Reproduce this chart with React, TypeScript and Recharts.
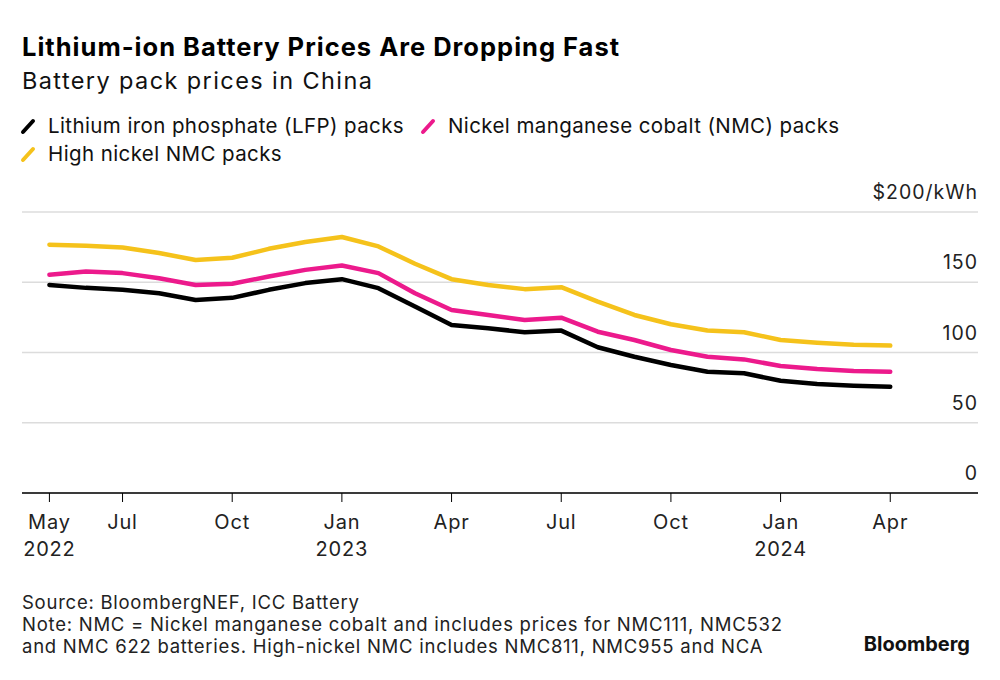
import { CartesianGrid, Line, LineChart, XAxis, YAxis } from "recharts";

const MONTH_LABELS = [
  "May", "Jun", "Jul", "Aug", "Sep", "Oct", "Nov", "Dec",
  "Jan", "Feb", "Mar", "Apr", "May", "Jun", "Jul", "Aug", "Sep", "Oct", "Nov", "Dec",
  "Jan", "Feb", "Mar", "Apr",
];
const YEAR_LABELS: Record<number, string> = { 0: "2022", 8: "2023", 20: "2024" };
const X_TICKS = [0, 2, 5, 8, 11, 14, 17, 20, 23];
const Y_TICKS = [0, 50, 100, 150, 200];

// $/kWh, monthly May 2022 – Apr 2024
const LFP = [148.1, 146, 144.6, 142.2, 137.4, 138.9, 144.6, 149.4, 152.2, 145.8, 132.7, 119.6, 117.3, 114.4, 115.6, 103.7, 97, 91.1, 86.3, 85.2, 79.9, 77.5, 76.3, 75.6];
const NMC = [155.3, 157.6, 156.5, 152.9, 148.1, 148.9, 154.1, 158.8, 161.9, 156.5, 142.2, 130.3, 126.7, 123.2, 124.8, 114.8, 108.9, 101.8, 97, 95.1, 90.4, 88.2, 86.8, 86.3];
const HIGH_NI = [176.7, 176, 174.7, 170.8, 165.8, 167.4, 173.8, 178.6, 182.2, 175.5, 163.2, 152.2, 148.1, 145.1, 146.5, 136.2, 126.7, 120.1, 115.6, 114.4, 108.9, 107, 105.6, 104.9];

const SERIES = [
  { key: "high", name: "High nickel NMC packs", color: "#F5C21B" },
  { key: "nmc", name: "Nickel manganese cobalt (NMC) packs", color: "#EC1A8C" },
  { key: "lfp", name: "Lithium iron phosphate (LFP) packs", color: "#000000" },
];

const FONT = "Inter, 'Liberation Sans', Arial, sans-serif";
const CHART_W = 1000;
const CHART_H = 560;
const Y_AXIS_W = 1;
const MARGIN = { top: 212, right: 21, left: 22, bottom: 0 };

const data = MONTH_LABELS.map((m, i) => ({ i, month: m, lfp: LFP[i], nmc: NMC[i], high: HIGH_NI[i] }));

function XTick({ x, y, payload }: { x?: number; y?: number; payload?: { value: number } }) {
  const idx = payload?.value ?? 0;
  const year = YEAR_LABELS[idx];
  const style = { letterSpacing: 0.8 };
  return (
    <g>
      <text x={x} y={(y ?? 0) + 27} textAnchor="middle" fontSize={20} fill="#222" fontFamily={FONT} style={style}>{MONTH_LABELS[idx]}</text>
      {year && <text x={x} y={(y ?? 0) + 54} textAnchor="middle" fontSize={20} fill="#222" fontFamily={FONT} style={style}>{year}</text>}
    </g>
  );
}

function YTick({ y, payload }: { y?: number; payload?: { value: number } }) {
  const v = payload?.value ?? 0;
  return (
    <text x={CHART_W - 22} y={(y ?? 0) - 13} textAnchor="end" fontSize={19.5} fill="#222" fontFamily={FONT} style={{ letterSpacing: 1 }}>
      {v === 200 ? "$200/kWh" : String(v)}
    </text>
  );
}

function Slash({ color }: { color: string }) {
  return (
    <svg width={16} height={18} style={{ marginRight: 12, flexShrink: 0 }}>
      <line x1={3} y1={15} x2={13} y2={4} stroke={color} strokeWidth={4} strokeLinecap="round" />
    </svg>
  );
}

function LegendItem({ color, name, left, top }: { color: string; name: string; left: number; top: number }) {
  return (
    <div style={{ position: "absolute", left, top, display: "flex", alignItems: "center", fontSize: 20.5, letterSpacing: 0.4, color: "#111", whiteSpace: "nowrap" }}>
      <Slash color={color} />
      <span>{name}</span>
    </div>
  );
}

export default function App() {
  return (
    <div style={{ position: "absolute", left: 0, top: 0, width: 1000, height: 680, background: "#fff", fontFamily: FONT, overflow: "hidden" }}>
      <div style={{ position: "absolute", left: 22, top: 31, fontSize: 25.5, fontWeight: 700, color: "#000", letterSpacing: 1.0, whiteSpace: "nowrap" }}>
        Lithium-ion Battery Prices Are Dropping Fast
      </div>
      <div style={{ position: "absolute", left: 22, top: 66, fontSize: 23.5, letterSpacing: 1.4, color: "#111", whiteSpace: "nowrap" }}>
        Battery pack prices in China
      </div>

      <LegendItem color={SERIES[2].color} name={SERIES[2].name} left={20} top={113} />
      <LegendItem color={SERIES[1].color} name={SERIES[1].name} left={420} top={113} />
      <LegendItem color={SERIES[0].color} name={SERIES[0].name} left={20} top={141} />

      <div style={{ position: "absolute", left: 0, top: 0 }}>
        <LineChart width={CHART_W} height={CHART_H} data={data} margin={MARGIN}>
          <CartesianGrid vertical={false} stroke="#dcdcdc" strokeWidth={1.5} />
          <XAxis
            type="number"
            dataKey="i"
            domain={[-0.75, 25.4]}
            ticks={X_TICKS}
            interval={0}
            height={67}
            allowDataOverflow
            axisLine={{ stroke: "#000", strokeWidth: 1.5 }}
            tickLine={{ stroke: "#000", strokeWidth: 1 }}
            tickSize={9}
            tickMargin={0}
            tick={(p: any) => <XTick {...p} />}
          />
          <YAxis
            orientation="right"
            width={Y_AXIS_W}
            domain={[0, 200]}
            ticks={Y_TICKS}
            interval={0}
            axisLine={false}
            tickLine={false}
            tick={(p: any) => <YTick {...p} />}
          />
          {SERIES.map(s => (
            <Line
              key={s.key}
              type="linear"
              dataKey={s.key}
              stroke={s.color}
              strokeWidth={4.5}
              strokeLinejoin="round"
              strokeLinecap="round"
              dot={false}
              activeDot={false}
              isAnimationActive={false}
            />
          ))}
        </LineChart>
      </div>

      <div style={{ position: "absolute", left: 22, top: 591, fontSize: 18.5, lineHeight: "22px", letterSpacing: 0.75, color: "#222", whiteSpace: "nowrap" }}>
        <div>Source: BloombergNEF, ICC Battery</div>
        <div>Note: NMC = Nickel manganese cobalt and includes prices for NMC111, NMC532</div>
        <div>and NMC 622 batteries. High-nickel NMC includes NMC811, NMC955 and NCA</div>
      </div>
      <div style={{ position: "absolute", right: 30, top: 632, fontSize: 20, fontWeight: 700, color: "#111" }}>
        Bloomberg
      </div>
    </div>
  );
}
